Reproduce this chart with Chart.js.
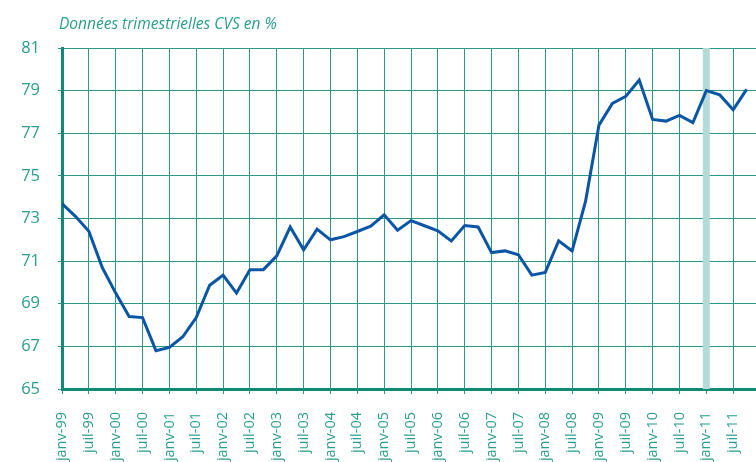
<!DOCTYPE html>
<html>
<head>
<meta charset="utf-8">
<script src="https://cdn.jsdelivr.net/npm/chart.js@4"></script>
<style>
  html, body { margin: 0; padding: 0; background: #fff; overflow: hidden; }
  #wrap { position: relative; width: 756px; height: 470px; }
  #title { position: absolute; left: 59px; top: 12px; font: italic 15.5px 'Open Sans', sans-serif; color: #2a9d8c; }
</style>
</head>
<body>
<div id="wrap">
  <div id="title">Données trimestrielles CVS en %</div>
  <canvas id="c" width="756" height="470"></canvas>
</div>
<script>
// one label every quarter, only janv/juil are shown
const years = ['99','00','01','02','03','04','05','06','07','08','09','10','11'];
const quarters = ['janv','avr','juil','oct'];
const labels = [];
years.forEach(y => quarters.forEach(q => labels.push(q + '-' + y)));

const values = [
  73.7, 73.1, 72.4, 70.7, 69.5, 68.4, 68.35, 66.8, 66.95, 67.45, 68.35, 69.87,
  70.34, 69.5, 70.6, 70.6, 71.25, 72.6, 71.53, 72.5, 72.0, 72.15, 72.39, 72.64,
  73.17, 72.45, 72.9, 72.66, 72.42, 71.95, 72.67, 72.6, 71.4, 71.48, 71.3, 70.34,
  70.47, 71.95, 71.48, 73.8, 77.38, 78.4, 78.73, 79.5, 77.65, 77.57, 77.84, 77.5,
  79.0, 78.8, 78.1, 79.06
];
const yTicks = [65, 67, 69, 71, 73, 75, 77, 79, 81];
const highlightIndex = 48; // janv-11

const teal = '#2a9a88';
const tealText = '#2a9d8c';

const highlight = {
  id: 'highlight',
  beforeDatasetsDraw(chart) {
    const { ctx, chartArea, scales } = chart;
    const x = scales.x.getPixelForValue(highlightIndex);
    ctx.save();
    ctx.fillStyle = '#b4dbd7';
    ctx.fillRect(x - 3.5, chartArea.top, 7, chartArea.bottom - chartArea.top);
    ctx.restore();
  }
};

new Chart(document.getElementById('c'), {
  type: 'line',
  data: {
    datasets: [{
      data: values.map((v, i) => ({ x: i, y: v })),
      borderColor: '#0b56a4', borderWidth: 3, pointRadius: 0, tension: 0, fill: false
    }]
  },
  options: {
    responsive: false, animation: false,
    layout: { padding: { top: 48, right: 0, left: 0, bottom: 0 } },
    plugins: { legend: { display: false }, tooltip: { enabled: false } },
    scales: {
      x: {
        type: 'linear', min: 0, max: 51.7,
        afterBuildTicks: s => { s.ticks = labels.map((l, i) => ({ value: i })).filter(t => t.value % 2 === 0); },
        afterFit: s => { s.height = 470 - 389; s.paddingRight = 0; s.paddingLeft = 0; },
        ticks: {
          autoSkip: false, maxRotation: 90, minRotation: 90, padding: 18,
          color: tealText, font: { family: 'Open Sans', size: 14.5 },
          callback: v => labels[v]
        },
        grid: { color: teal, lineWidth: 1, tickLength: 5, tickColor: teal },
        border: { color: '#0e8a75', width: 3 }
      },
      y: {
        min: 65, max: 81,
        afterBuildTicks: s => { s.ticks = yTicks.map(v => ({ value: v })); },
        afterFit: s => { s.width = 62; },
        ticks: { padding: 18, color: tealText, font: { family: 'Open Sans', size: 16.5 } },
        grid: { color: teal, lineWidth: 1, tickLength: 4, tickColor: teal },
        border: { color: '#0e8a75', width: 3 }
      }
    }
  },
  plugins: [highlight]
});
</script>
</body>
</html>
